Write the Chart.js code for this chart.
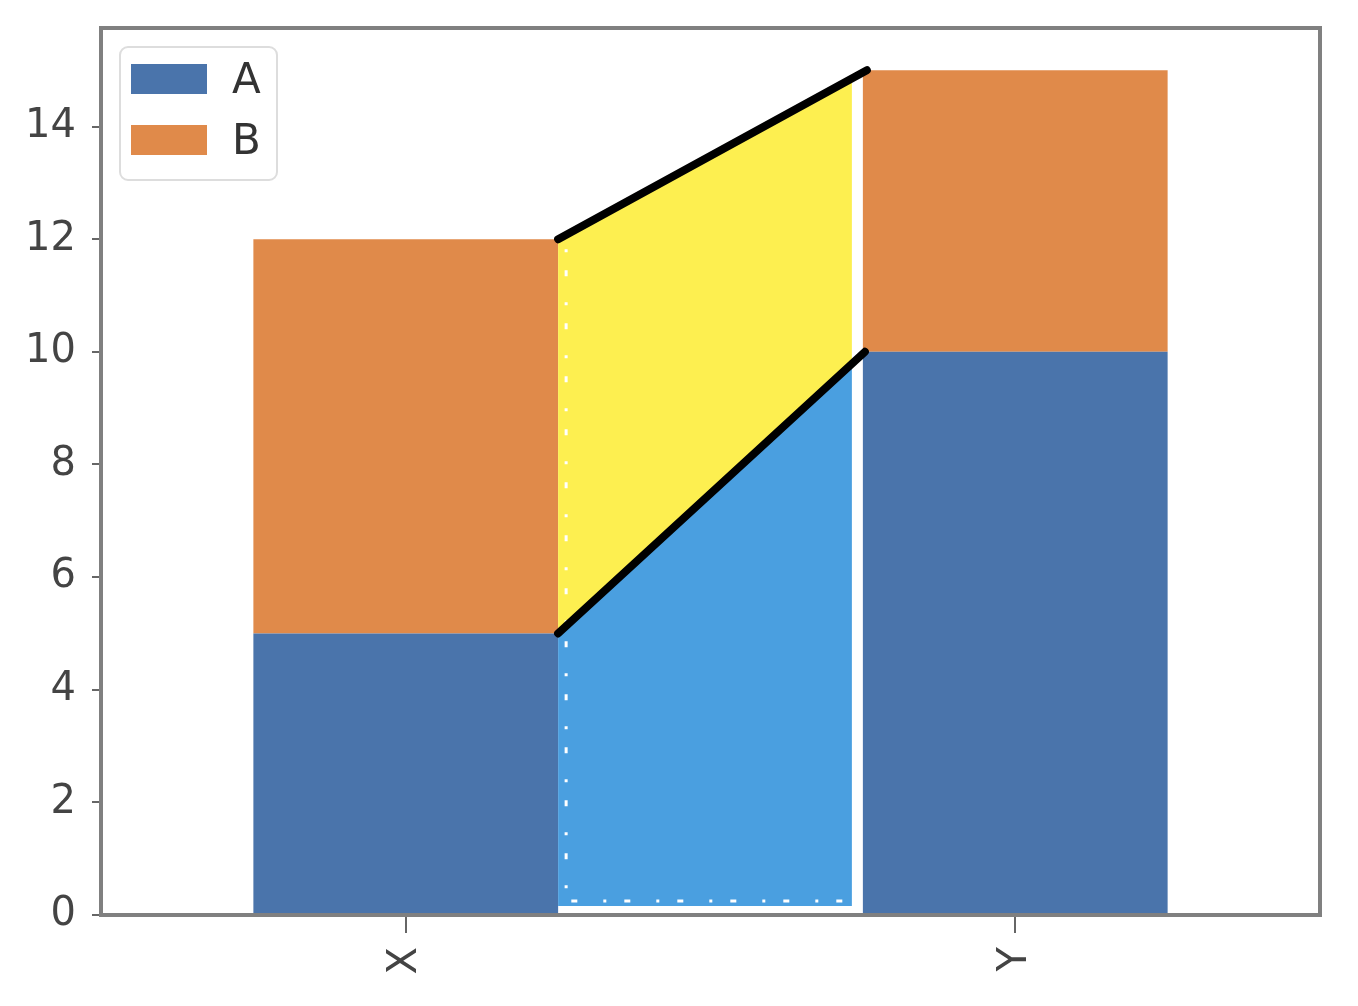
<!DOCTYPE html>
<html lang="en">
<head>
  <meta charset="UTF-8" />
  <title>Stacked bars with connector</title>
  <script src="https://cdn.jsdelivr.net/npm/chart.js"></script>
  <style>
    body {
      margin: 0;
      background: #ffffff;
    }
    #wrap {
      width: 1358px;
      height: 1006px;
    }
  </style>
</head>
<body>
  <div id="wrap">
    <canvas id="grafico" width="1358" height="1006"></canvas>
  </div>

  <script>
    const categorias = ['X', 'Y'];
    const serieA = [5, 10];
    const serieB = [7, 5];
    const ticksY = [0, 2, 4, 6, 8, 10, 12, 14];
    const maxY = 15.75;

    const corA = '#4a74ab';
    const corB = '#e08a4a';
    const fonte = "'DejaVu Sans', sans-serif";

    // faixa entre as duas colunas (azul embaixo, amarelo em cima)
    const pluginConector = {
      id: 'conector',
      afterDatasetsDraw(chart) {
        const ctx = chart.ctx;
        const ys = chart.scales.y;
        const barX = chart.getDatasetMeta(0).data[0];
        const barY = chart.getDatasetMeta(0).data[1];
        const xL = barX.x + barX.width / 2;
        const xFim = barY.x - barY.width / 2;
        const xR = xFim - 11;
        const base = ys.getPixelForValue(0) - 9;

        const yBaixoL = ys.getPixelForValue(serieA[0]);
        const yBaixoF = ys.getPixelForValue(serieA[1]);
        const yAltoL = ys.getPixelForValue(serieA[0] + serieB[0]);
        const yAltoF = ys.getPixelForValue(serieA[1] + serieB[1]);
        const t = (xR - xL) / (xFim - xL);
        const yBaixoR = yBaixoL + (yBaixoF - yBaixoL) * t;
        const yAltoR = yAltoL + (yAltoF - yAltoL) * t;

        ctx.save();
        ctx.fillStyle = '#4a9fe0';
        ctx.beginPath();
        ctx.moveTo(xL, yBaixoL);
        ctx.lineTo(xR, yBaixoR);
        ctx.lineTo(xR, base);
        ctx.lineTo(xL, base);
        ctx.closePath();
        ctx.fill();

        ctx.fillStyle = '#fdef50';
        ctx.beginPath();
        ctx.moveTo(xL, yAltoL);
        ctx.lineTo(xR, yAltoR);
        ctx.lineTo(xR, yBaixoR);
        ctx.lineTo(xL, yBaixoL);
        ctx.closePath();
        ctx.fill();

        // borda pontilhada branca
        ctx.strokeStyle = '#ffffff';
        ctx.lineWidth = 3;
        ctx.setLineDash([3, 18, 6, 26]);
        ctx.beginPath();
        ctx.moveTo(xL + 8, yAltoL + 10);
        ctx.lineTo(xL + 8, base - 5);
        ctx.lineTo(xR, base - 5);
        ctx.stroke();
        ctx.setLineDash([]);

        ctx.strokeStyle = '#000000';
        ctx.lineWidth = 8;
        ctx.lineCap = 'round';
        ctx.beginPath();
        ctx.moveTo(xL, yAltoL);
        ctx.lineTo(xFim + 4, yAltoF);
        ctx.moveTo(xL, yBaixoL);
        ctx.lineTo(xFim + 2, yBaixoF);
        ctx.stroke();
        ctx.restore();
      }
    };

    // moldura e legenda no canto
    const pluginMoldura = {
      id: 'moldura',
      afterDraw(chart) {
        const ctx = chart.ctx;
        const a = chart.chartArea;
        ctx.save();
        ctx.strokeStyle = '#808080';
        ctx.lineWidth = 4;
        ctx.strokeRect(a.left, a.top, a.right - a.left, a.bottom - a.top);

        const lx = a.left + 19, ly = a.top + 19;
        ctx.fillStyle = 'rgba(255,255,255,0.85)';
        ctx.strokeStyle = '#dddddd';
        ctx.lineWidth = 2;
        ctx.beginPath();
        ctx.roundRect(lx, ly, 157, 133, 8);
        ctx.fill();
        ctx.stroke();

        chart.data.datasets.forEach((ds, i) => {
          const y = ly + 17 + i * 61;
          ctx.fillStyle = ds.backgroundColor;
          ctx.fillRect(lx + 11, y, 76, 30);
          ctx.fillStyle = '#333333';
          ctx.font = '42px ' + fonte;
          ctx.textBaseline = 'middle';
          ctx.textAlign = 'left';
          ctx.fillText(ds.label, lx + 112, y + 18);
        });
        ctx.restore();
      }
    };

    new Chart(document.getElementById('grafico'), {
      type: 'bar',
      data: {
        labels: categorias,
        datasets: [
          { label: 'A', data: serieA, backgroundColor: corA, borderWidth: 0 },
          { label: 'B', data: serieB, backgroundColor: corB, borderWidth: 0 }
        ]
      },
      options: {
        responsive: false,
        animation: false,
        barPercentage: 1,
        categoryPercentage: 0.5,
        layout: { padding: { left: 0, right: 38, top: 28, bottom: 0 } },
        plugins: {
          legend: { display: false },
          tooltip: { enabled: false }
        },
        scales: {
          x: {
            stacked: true,
            grid: { offset: false, drawOnChartArea: false, tickLength: 18, tickColor: '#666666', lineWidth: 2 },
            border: { display: false },
            ticks: {
              minRotation: 90,
              maxRotation: 90,
              padding: 14,
              color: '#444444',
              font: { family: fonte, size: 40 }
            },
            afterFit(s) {
              s.height = 91;
              s.paddingLeft = 0;
              s.paddingRight = 0;
            }
          },
          y: {
            stacked: true,
            min: 0,
            max: maxY,
            grid: { drawOnChartArea: false, tickLength: 9, tickColor: '#666666', lineWidth: 2 },
            border: { display: false },
            afterBuildTicks(s) { s.ticks = ticksY.map(v => ({ value: v })); },
            ticks: {
              padding: 16,
              color: '#444444',
              font: { family: fonte, size: 40 }
            },
            afterFit(s) {
              s.width = 101;
              s.paddingTop = 0;
              s.paddingBottom = 0;
            }
          }
        }
      },
      plugins: [pluginConector, pluginMoldura]
    });
  </script>
</body>
</html>
